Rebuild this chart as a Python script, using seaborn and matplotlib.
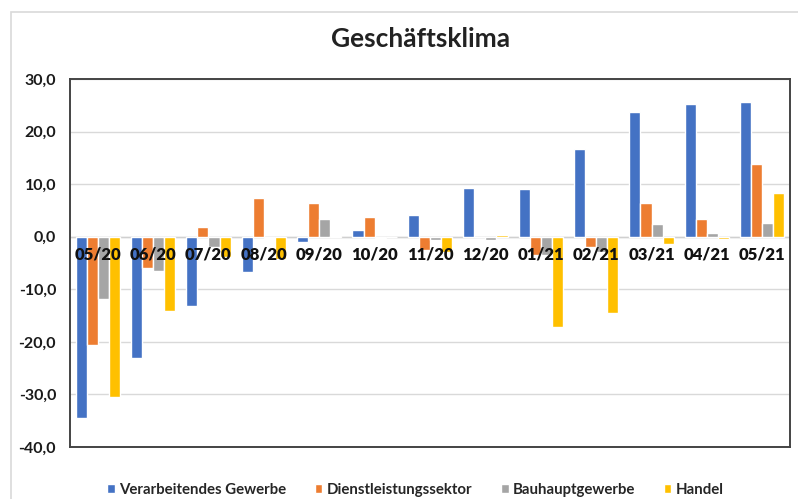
import numpy as np
import pandas as pd
import seaborn as sns
from matplotlib import pyplot as plt
from matplotlib.patches import Rectangle

months = ['05/20', '06/20', '07/20', '08/20', '09/20', '10/20', '11/20',
          '12/20', '01/21', '02/21', '03/21', '04/21', '05/21']
series = ['Verarbeitendes Gewerbe', 'Dienstleistungssektor', 'Bauhauptgewerbe', 'Handel']
verarbeitend = [-34.5, -23.1, -13.2, -6.8, -1.1, 1.3, 4.1, 9.3, 9.0, 16.6, 23.8, 25.2, 25.7]
dienstleistung = [-20.6, -6.0, 1.8, 7.3, 6.4, 3.8, -2.5, 0.0, -3.5, -2.0, 6.4, 3.3, 13.8]
bauhaupt = [-11.9, -6.5, -2.0, -0.3, 3.3, -0.3, -0.6, -0.7, -3.5, -3.0, 2.5, 0.8, 2.7]
handel = [-30.4, -14.1, -3.8, -4.2, 0.2, 0.0, -3.0, 0.3, -17.1, -14.6, -1.3, -0.4, 8.3]
colors = ['#4472C4', '#ED7D31', '#A5A5A5', '#FFC000']

df = pd.DataFrame({'Monat': months * 4,
                   'Reihe': np.repeat(series, len(months)),
                   'Wert': verarbeitend + dienstleistung + bauhaupt + handel})

sns.set_theme(style='white')
plt.rcParams['font.family'] = ['Lato', 'DejaVu Sans']

fig = plt.figure(figsize=(7.98, 4.99), dpi=100)
ax = fig.add_axes([70 / 798, 1 - 447 / 499, 720 / 798, 368 / 499])

# outer chart border
fig.patches.append(Rectangle((11 / 798, -0.05), 1.1, 1 - 12 / 499 + 0.05, transform=fig.transFigure,
                             fill=False, edgecolor='#d9d9d9', linewidth=1.2))

sns.barplot(data=df, x='Monat', y='Wert', hue='Reihe', palette=colors, width=0.8,
            saturation=1, ax=ax, zorder=3)

ax.set_ylim(-40, 30)
ax.set_yticks(np.arange(-40, 31, 10))
ax.set_yticklabels([f'{v:.1f}'.replace('.', ',') for v in np.arange(-40, 31, 10)],
                   fontsize=11.5, fontweight='bold', color='#1a1a1a')
ax.tick_params(axis='y', length=0, pad=10)
ax.yaxis.grid(True, color='#d9d9d9', linewidth=1, zorder=0)
ax.axhline(0, color='#d0d0d0', linewidth=1, zorder=2)
ax.set_xlabel('')
ax.set_ylabel('')
ax.set_xticks([])
for s in ax.spines.values():
    s.set_color('#444444')
    s.set_linewidth(1.4)

# category labels next to the zero line, drawn over the bars
sec = ax.secondary_xaxis(0, transform=ax.transData)
sec.set_xticks(range(len(months)))
sec.set_xticklabels(months, fontsize=12, fontweight='heavy', color='#111111')
sec.tick_params(length=0, pad=7)
sec.spines['bottom'].set_visible(False)
sec.set_zorder(10)

fig.suptitle('Geschäftsklima', x=0.527, y=0.945, fontsize=19, fontweight='bold', color='#222222')

ax.legend(loc='upper center', bbox_to_anchor=(0.48, -0.06), ncol=4, frameon=False,
          handlelength=0.5, handleheight=0.5, handletextpad=0.3, columnspacing=1.9,
          prop={'weight': 'bold', 'size': 10.8})

fig.savefig('out.png', dpi=100)
